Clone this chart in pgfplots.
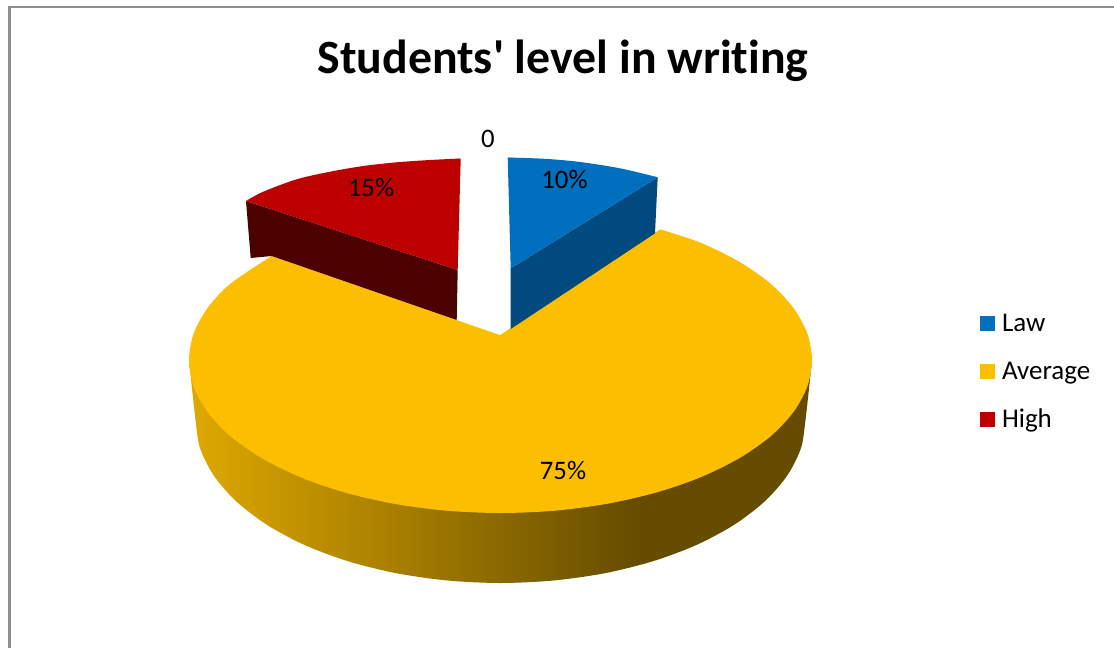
\documentclass[border=0pt]{standalone}
\usepackage{fontspec}
\setmainfont{Carlito}
\newfontfamily\plainfont[Ligatures=NoCommon]{Carlito}
\usepackage{pgfplots}
\pgfplotsset{compat=1.18}
\definecolor{cblue}{HTML}{006FBE}
\definecolor{cblued}{HTML}{004A7F}
\definecolor{cyel}{HTML}{FCBE00}
\definecolor{cred}{HTML}{BC0000}
\definecolor{credd}{HTML}{4D0000}
\definecolor{framec}{HTML}{8E8E8E}
\definecolor{sideL}{HTML}{DFA900}
\definecolor{sideR}{HTML}{654C00}
\pgfdeclarehorizontalshading{yellowside}{100bp}{color(0bp)=(sideL); color(25bp)=(sideL); color(61bp)=(sideR); color(100bp)=(sideR)}
\begin{document}
\begin{tikzpicture}
\begin{axis}[
  x=1pt,y=1pt,xmin=0,xmax=1114,ymin=0,ymax=648,y dir=reverse,
  hide axis,clip=true,scale only axis,no markers,
  every axis plot/.append style={forget plot,draw=none,line width=0pt},
  legend style={at={(axis cs:980,314.5)},anchor=north west,draw=none,fill=none,
    font=\plainfont\fontsize{27}{32}\selectfont,row sep=28.5pt,inner sep=0pt,outer sep=0pt,
    nodes={inner sep=0pt,outer sep=0pt},
    /tikz/column 1/.style={column sep=7pt}},
  legend cell align=left,
  legend image code/.code={\fill[#1] (0pt,-7.5pt) rectangle (15pt,7.5pt);},
]
% page
\addplot[fill=white] coordinates {(0,0)(1114,0)(1114,648)(0,648)};
% frame
\addplot[draw=framec,line width=2.5pt] coordinates {(9.3,650)(9.3,7)(1116,7)};
% yellow side wall
\addplot[shade,shading=yellowside,smooth] coordinates {
(812,360)(805.5,420)(800.9,448.3)(787.1,475.7)(764.6,501.5)(734.1,524.8)(696.6,544.9)(653,561.2)(604.8,573.2)(553.4,580.5)(500.5,583)(447.6,580.5)(396.2,573.2)(348,561.2)(304.4,544.9)(266.9,524.8)(236.4,501.5)(213.9,475.7)(200.1,448.3)(195.5,420)(189,360)};
% yellow top
\addplot[fill=cyel,smooth] coordinates {
(660,229.3)(700.7,242.8)(739.1,261.7)(770.3,283.5)(793.2,307.7)(807.3,333.4)(812,360)(807.3,386.6)(793.2,412.3)(770.3,436.5)(739.1,458.3)(700.7,477.2)(656.3,492.5)(607,503.8)(554.6,510.7)(500.5,513)(446.4,510.7)(394,503.8)(344.7,492.5)(300.3,477.2)(261.9,458.3)(230.7,436.5)(207.8,412.3)(193.7,386.6)(189,360)(193.7,333.4)(207.8,307.7)(230.7,283.5)(271.7,256)};
% gap
\addplot[fill=white] coordinates {(660,229.3)(500,335)(271.7,256)(271.7,200)(660,200)};
% blue slice
\addplot[fill=cblued] coordinates {(510.7,268.3)(657.7,177.3)(655,233.3)(510.7,329)};
\addplot[fill=cblue,smooth] coordinates {(507.7,157.5)(545,158.8)(580,162)(620,168.3)(657.7,177.3)};
\addplot[fill=cblue] coordinates {(507.7,157.5)(582,164)(657.7,177.3)(510.7,268.3)};
% red slice
\addplot[fill=credd] coordinates {(246,201)(457.7,270)(456.7,320)(271.7,256)(250.7,258)};
\addplot[fill=cred,smooth] coordinates {(460.7,158.5)(430,160)(396.7,162.3)(363.3,166)(330,171.7)(296.7,179.3)(263.3,191.7)(246,201)};
\addplot[fill=cred] coordinates {(460.7,158.5)(353,172)(246,201)(457.7,270)};
% labels
\node[anchor=base,font=\plainfont\fontsize{47.8}{55}\selectfont\bfseries] at (axis cs:563,73) {Students' level in writing};
\node[anchor=base,font=\plainfont\fontsize{26.7}{30}\selectfont] at (axis cs:488,147) {0};
\node[anchor=base,font=\plainfont\fontsize{26.7}{30}\selectfont] at (axis cs:564.5,188.5) {10\%};
\node[anchor=base,font=\plainfont\fontsize{26.7}{30}\selectfont] at (axis cs:371,196) {15\%};
\node[anchor=base,font=\plainfont\fontsize{26.7}{30}\selectfont] at (axis cs:563,479) {75\%};
% legend
\addlegendimage{fill=cblue}\addlegendentry{Law}
\addlegendimage{fill=cyel}\addlegendentry{Average}
\addlegendimage{fill=cred}\addlegendentry{High}
\end{axis}
\end{tikzpicture}
\end{document}
